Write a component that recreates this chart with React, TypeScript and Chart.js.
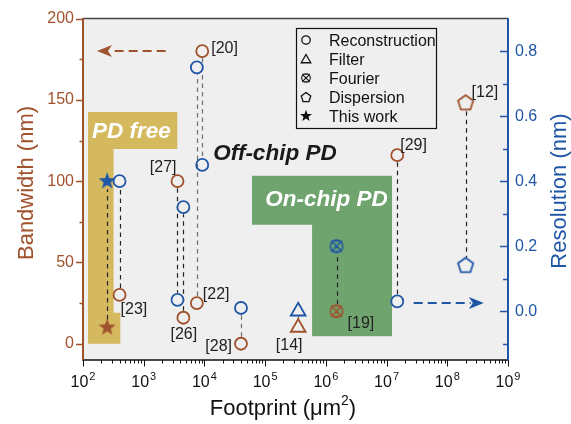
import { useEffect, useRef } from 'react';
import { Chart, registerables } from 'chart.js';

Chart.register(...registerables);

const FONT = '"Liberation Sans", Arial, Helvetica, sans-serif';
const BROWN = '#A0522D';
const BLUE = '#1F57A6';
const GOLD = '#D5B95F';
const GREEN = '#6FA46F';
const PLOT_BG = '#EFEFEF';
const INK = '#222222';

// ---------- data ----------
const recRefs = ['[23]', '[27]', '[26]', '[22]', '[20]', '[28]', '[29]'];
const recFootprint = [400, 3600, 4500, 7500, 9200, 40000, 15000000];
const recBandwidth = [30, 100, 16, 25, 180, 0, 116];
const recResolution = [0.4, 0.035, 0.32, 0.75, 0.45, 0.01, 0.03];

const filterRefs = ['[14]'];
const filterFootprint = [350000];
const filterBandwidth = [10];
const filterResolution = [0.0];

const fourierRefs = ['[19]'];
const fourierFootprint = [1500000];
const fourierBandwidth = [20];
const fourierResolution = [0.2];

const dispersionRefs = ['[12]'];
const dispersionFootprint = [200000000];
const dispersionBandwidth = [148];
const dispersionResolution = [0.14];

const thisWorkFootprint = [250];
const thisWorkBandwidth = [10];
const thisWorkResolution = [0.4];

const xTickExponents = [2, 3, 4, 5, 6, 7, 8, 9];
const leftTicks = [0, 25, 50, 75, 100, 125, 150, 175, 200];
const leftLabeled = [0, 50, 100, 150, 200];
const rightTicks = [-0.1, 0, 0.1, 0.2, 0.3, 0.4, 0.5, 0.6, 0.7, 0.8];
const rightLabeled = [0, 0.2, 0.4, 0.6, 0.8];

const legendLabels = ['Reconstruction', 'Filter', 'Fourier', 'Dispersion', 'This work'];

// arrows: [from footprint, to footprint, value]
const bandwidthArrow = [2300, 170, 180];
const resolutionArrow = [28000000, 400000000, 0.025];

// shaded regions (footprint, bandwidth)
const pdFreeRegion = [
  [121, 142.5], [3570, 142.5], [3570, 119.8], [319, 119.8], [319, 19], [412, 19], [412, 0], [121, 0],
];
const onChipRegion = [
  [60800, 103.4], [12300000, 103.4], [12300000, 4.6], [593000, 4.6], [593000, 73.2], [60800, 73.2],
];

// label layout relative to bandwidth marker (pixels)
const refLabelLayout: Record<string, { dx: number; dy: number; align: CanvasTextAlign }> = {
  '[23]': { dx: 1, dy: 13, align: 'left' },
  '[27]': { dx: -1, dy: -15, align: 'right' },
  '[26]': { dx: 0.5, dy: 15, align: 'center' },
  '[22]': { dx: 6, dy: -10, align: 'left' },
  '[20]': { dx: 9, dy: -4, align: 'left' },
  '[28]': { dx: -9, dy: 1.5, align: 'right' },
  '[29]': { dx: 3, dy: -11, align: 'left' },
  '[14]': { dx: -9, dy: 17, align: 'center' },
  '[19]': { dx: 11, dy: 10.5, align: 'left' },
  '[12]': { dx: 6, dy: -12, align: 'left' },
};
const grayConnectors = ['[20]', '[22]', '[28]'];

// ---------- marker shapes ----------
function pentagonPath(g: CanvasRenderingContext2D, cx: number, cy: number, R: number) {
  g.beginPath();
  for (let k = 0; k < 5; k++) {
    const a = -Math.PI / 2 + (k * 2 * Math.PI) / 5;
    const px = cx + R * Math.cos(a);
    const py = cy + R * Math.sin(a);
    if (k === 0) g.moveTo(px, py);
    else g.lineTo(px, py);
  }
  g.closePath();
}
function starPath(g: CanvasRenderingContext2D, cx: number, cy: number, R: number, r: number) {
  g.beginPath();
  for (let k = 0; k < 10; k++) {
    const a = -Math.PI / 2 + (k * Math.PI) / 5;
    const rr = k % 2 === 0 ? R : r;
    const px = cx + rr * Math.cos(a);
    const py = cy + rr * Math.sin(a);
    if (k === 0) g.moveTo(px, py);
    else g.lineTo(px, py);
  }
  g.closePath();
}
function fourierPath(g: CanvasRenderingContext2D, cx: number, cy: number, r: number, h: number) {
  g.beginPath();
  g.arc(cx, cy, r, 0, Math.PI * 2);
  g.moveTo(cx - h, cy - h);
  g.lineTo(cx + h, cy + h);
  g.moveTo(cx + h, cy - h);
  g.lineTo(cx - h, cy + h);
  g.moveTo(cx - h, cy - h);
  g.lineTo(cx + h, cy - h);
  g.moveTo(cx - h, cy + h);
  g.lineTo(cx + h, cy + h);
}
function trianglePath(g: CanvasRenderingContext2D, cx: number, cy: number, R: number) {
  g.beginPath();
  for (let k = 0; k < 3; k++) {
    const a = -Math.PI / 2 + (k * 2 * Math.PI) / 3;
    const px = cx + R * Math.cos(a);
    const py = cy + R * Math.sin(a);
    if (k === 0) g.moveTo(px, py);
    else g.lineTo(px, py);
  }
  g.closePath();
}

function makeMarker(size: number, draw: (g: CanvasRenderingContext2D, c: number) => void) {
  const c = document.createElement('canvas');
  c.width = size;
  c.height = size;
  const g = c.getContext('2d')!;
  draw(g, size / 2);
  return c;
}

function pentagonMarker(color: string) {
  return makeMarker(22, (g, c) => {
    pentagonPath(g, c, c, 8);
    g.strokeStyle = color;
    g.lineWidth = 1.8;
    g.lineJoin = 'round';
    g.stroke();
  });
}
function starMarker(color: string) {
  return makeMarker(22, (g, c) => {
    starPath(g, c, c, 9, 3.7);
    g.fillStyle = color;
    g.fill();
  });
}
function fourierMarker(color: string) {
  return makeMarker(20, (g, c) => {
    fourierPath(g, c, c, 6.2, 5.3);
    g.strokeStyle = color;
    g.lineWidth = 1.5;
    g.stroke();
  });
}

function pts(xs: number[], ys: number[]) {
  return xs.map((x, i) => ({ x, y: ys[i] }));
}

function drawArrow(ctx: CanvasRenderingContext2D, x1: number, x2: number, y: number, color: string) {
  const dir = x2 > x1 ? 1 : -1;
  const headLen = 15;
  ctx.save();
  ctx.strokeStyle = color;
  ctx.fillStyle = color;
  ctx.lineWidth = 2;
  ctx.setLineDash([9, 5]);
  ctx.beginPath();
  ctx.moveTo(x1, y);
  ctx.lineTo(x2 - dir * (headLen - 2), y);
  ctx.stroke();
  ctx.setLineDash([]);
  ctx.beginPath();
  ctx.moveTo(x2, y);
  ctx.lineTo(x2 - dir * headLen, y - 6);
  ctx.lineTo(x2 - dir * (headLen - 4), y);
  ctx.lineTo(x2 - dir * headLen, y + 6);
  ctx.closePath();
  ctx.fill();
  ctx.restore();
}

const overlayPlugin = {
  id: 'overlay',
  beforeDatasetsDraw(chart: any) {
    const { ctx, chartArea: a, scales } = chart;
    const sx = scales.x;
    const sy = scales.y;
    const sy2 = scales.y2;
    ctx.save();
    ctx.fillStyle = PLOT_BG;
    ctx.fillRect(a.left, a.top, a.right - a.left, a.bottom - a.top);

    const poly = (p: number[][], color: string) => {
      ctx.beginPath();
      p.forEach(([fx, fy], i) => {
        const px = sx.getPixelForValue(fx);
        const py = sy.getPixelForValue(fy);
        if (i === 0) ctx.moveTo(px, py);
        else ctx.lineTo(px, py);
      });
      ctx.closePath();
      ctx.fillStyle = color;
      ctx.fill();
    };
    poly(pdFreeRegion, GOLD);
    poly(onChipRegion, GREEN);

    ctx.font = `italic bold 22.5px ${FONT}`;
    ctx.textBaseline = 'alphabetic';
    ctx.fillStyle = '#FFFFFF';
    ctx.textAlign = 'center';
    ctx.fillText('PD free', sx.getPixelForValue(625), sy.getPixelForValue(131.5) + 8);
    ctx.textAlign = 'left';
    ctx.fillText('On-chip PD', sx.getPixelForValue(100000), sy.getPixelForValue(89.7) + 8);
    ctx.fillStyle = '#1A1A1A';
    ctx.fillText('Off-chip PD', sx.getPixelForValue(14000), sy.getPixelForValue(118) + 8);

    // connectors
    const conn = (f: number, bw: number, res: number, gap1: number, gap2: number, color: string, dashed = true) => {
      const px = Math.round(sx.getPixelForValue(f)) + 0.5;
      const p1 = sy.getPixelForValue(bw);
      const p2 = sy2.getPixelForValue(res);
      const d = p2 > p1 ? 1 : -1;
      ctx.save();
      ctx.strokeStyle = color;
      ctx.lineWidth = 1.2;
      ctx.setLineDash(dashed ? [4.5, 4] : []);
      ctx.beginPath();
      ctx.moveTo(px, p1 + d * gap1);
      ctx.lineTo(px, p2 - d * gap2);
      ctx.stroke();
      ctx.restore();
    };
    recRefs.forEach((r, i) => {
      conn(recFootprint[i], recBandwidth[i], recResolution[i], 7, 7, grayConnectors.includes(r) ? '#707070' : INK);
    });
    filterRefs.forEach((_, i) => {
      conn(filterFootprint[i], filterBandwidth[i], filterResolution[i], 9, 5, '#606060', false);
    });
    fourierRefs.forEach((_, i) => {
      conn(fourierFootprint[i], fourierBandwidth[i], fourierResolution[i], 7, 7, INK);
    });
    dispersionRefs.forEach((_, i) => {
      conn(dispersionFootprint[i], dispersionBandwidth[i], dispersionResolution[i], 8, 8, INK);
    });
    thisWorkFootprint.forEach((f, i) => {
      conn(f, thisWorkBandwidth[i], thisWorkResolution[i], 8, 8, INK);
    });

    // arrows
    drawArrow(ctx, sx.getPixelForValue(bandwidthArrow[0]), sx.getPixelForValue(bandwidthArrow[1]),
      sy.getPixelForValue(bandwidthArrow[2]), BROWN);
    drawArrow(ctx, sx.getPixelForValue(resolutionArrow[0]), sx.getPixelForValue(resolutionArrow[1]),
      sy2.getPixelForValue(resolutionArrow[2]), BLUE);
    ctx.restore();
  },
  afterDatasetsDraw(chart: any) {
    const { ctx, chartArea: a, scales } = chart;
    const sx = scales.x;
    const sy = scales.y;
    const sy2 = scales.y2;
    ctx.save();

    // reference labels
    ctx.font = `16px ${FONT}`;
    ctx.fillStyle = INK;
    ctx.textBaseline = 'alphabetic';
    const lab = (ref: string, f: number, bw: number) => {
      const L = refLabelLayout[ref];
      if (!L) return;
      ctx.textAlign = L.align;
      ctx.fillText(ref, sx.getPixelForValue(f) + L.dx, sy.getPixelForValue(bw) + L.dy + 5.8);
    };
    recRefs.forEach((r, i) => lab(r, recFootprint[i], recBandwidth[i]));
    filterRefs.forEach((r, i) => lab(r, filterFootprint[i], filterBandwidth[i]));
    fourierRefs.forEach((r, i) => lab(r, fourierFootprint[i], fourierBandwidth[i]));
    dispersionRefs.forEach((r, i) => lab(r, dispersionFootprint[i], dispersionBandwidth[i]));

    // legend
    const lx = 296.5, ly = 28.5, lw = 140, lh = 100;
    ctx.strokeStyle = '#111';
    ctx.lineWidth = 1.2;
    ctx.strokeRect(lx, ly, lw, lh);
    ctx.font = `16px ${FONT}`;
    ctx.textAlign = 'left';
    ctx.fillStyle = '#111';
    legendLabels.forEach((t, i) => {
      const cy = 40 + i * 19;
      const cx = 306;
      ctx.strokeStyle = '#111';
      ctx.fillStyle = '#111';
      ctx.lineWidth = 1.3;
      if (i === 0) { ctx.beginPath(); ctx.arc(cx, cy, 4.2, 0, Math.PI * 2); ctx.stroke(); }
      if (i === 1) { trianglePath(ctx, cx, cy + 1, 5.5); ctx.stroke(); }
      if (i === 2) { fourierPath(ctx, cx, cy, 4.3, 3.7); ctx.lineWidth = 1.1; ctx.stroke(); }
      if (i === 3) { pentagonPath(ctx, cx, cy + 0.5, 5); ctx.stroke(); }
      if (i === 4) { starPath(ctx, cx, cy, 6.3, 2.6); ctx.fill(); }
      ctx.fillStyle = '#111';
      ctx.fillText(t, 329, cy + 5.8);
    });

    // frame
    ctx.lineWidth = 1.5;
    ctx.strokeStyle = '#444';
    ctx.beginPath(); ctx.moveTo(a.left, a.top); ctx.lineTo(a.right, a.top); ctx.stroke();
    ctx.strokeStyle = '#111';
    ctx.beginPath(); ctx.moveTo(a.left, a.bottom); ctx.lineTo(a.right, a.bottom); ctx.stroke();
    ctx.lineWidth = 2;
    ctx.strokeStyle = BROWN;
    ctx.beginPath(); ctx.moveTo(a.left, a.top - 0.5); ctx.lineTo(a.left, a.bottom + 1); ctx.stroke();
    ctx.strokeStyle = BLUE;
    ctx.beginPath(); ctx.moveTo(a.right, a.top - 0.5); ctx.lineTo(a.right, a.bottom + 1); ctx.stroke();

    // x ticks
    ctx.strokeStyle = '#111';
    ctx.lineWidth = 1;
    xTickExponents.forEach((e) => {
      const px = Math.round(sx.getPixelForValue(Math.pow(10, e))) + 0.5;
      ctx.beginPath(); ctx.moveTo(px, a.bottom); ctx.lineTo(px, a.bottom + 6.5); ctx.stroke();
      if (e < 9) {
        for (let m = 2; m <= 9; m++) {
          const mx = Math.round(sx.getPixelForValue(m * Math.pow(10, e))) + 0.5;
          ctx.beginPath(); ctx.moveTo(mx, a.bottom); ctx.lineTo(mx, a.bottom + 3.5); ctx.stroke();
        }
      }
    });
    // x tick labels
    ctx.fillStyle = '#111';
    xTickExponents.forEach((e) => {
      const px = sx.getPixelForValue(Math.pow(10, e));
      ctx.font = `16px ${FONT}`;
      const wb = ctx.measureText('10').width;
      ctx.font = `11px ${FONT}`;
      const ws = ctx.measureText(String(e)).width;
      const x0 = px - (wb + ws + 1) / 2;
      ctx.textAlign = 'left';
      ctx.font = `16px ${FONT}`;
      ctx.fillText('10', x0, 386.5);
      ctx.font = `11px ${FONT}`;
      ctx.fillText(String(e), x0 + wb + 1, 380);
    });

    // left ticks
    ctx.strokeStyle = BROWN;
    ctx.lineWidth = 1.5;
    leftTicks.forEach((v) => {
      const py = Math.round(sy.getPixelForValue(v)) + 0.5;
      const len = leftLabeled.includes(v) ? 7 : 3.5;
      ctx.beginPath(); ctx.moveTo(a.left - len, py); ctx.lineTo(a.left, py); ctx.stroke();
    });
    // right ticks (inside)
    ctx.strokeStyle = BLUE;
    rightTicks.forEach((v) => {
      const py = Math.round(sy2.getPixelForValue(v)) + 0.5;
      const len = rightLabeled.some((t) => Math.abs(t - v) < 1e-9) ? 8 : 5;
      ctx.beginPath(); ctx.moveTo(a.right - len, py); ctx.lineTo(a.right, py); ctx.stroke();
    });

    // axis titles
    ctx.font = `22px ${FONT}`;
    ctx.fillStyle = '#111';
    ctx.textAlign = 'left';
    const t1 = 'Footprint (\u03BCm';
    const w1 = ctx.measureText(t1).width;
    ctx.font = `14px ${FONT}`;
    const w2 = ctx.measureText('2').width;
    ctx.font = `22px ${FONT}`;
    const w3 = ctx.measureText(')').width;
    const tx = 283 - (w1 + w2 + w3) / 2;
    ctx.fillText(t1, tx, 415);
    ctx.font = `14px ${FONT}`;
    ctx.fillText('2', tx + w1, 405);
    ctx.font = `22px ${FONT}`;
    ctx.fillText(')', tx + w1 + w2, 415);

    ctx.font = `22px ${FONT}`;
    ctx.textAlign = 'center';
    ctx.save();
    ctx.translate(33, 183);
    ctx.rotate(-Math.PI / 2);
    ctx.fillStyle = BROWN;
    ctx.fillText('Bandwidth (nm)', 0, 0);
    ctx.restore();
    ctx.save();
    ctx.translate(566, 191);
    ctx.rotate(-Math.PI / 2);
    ctx.fillStyle = BLUE;
    ctx.fillText('Resolution (nm)', 0, 0);
    ctx.restore();

    ctx.restore();
  },
};

export default function App() {
  const ref = useRef<HTMLCanvasElement | null>(null);
  useEffect(() => {
    if (!ref.current) return;
    const pentB = pentagonMarker(BROWN);
    const pentU = pentagonMarker(BLUE);
    const starB = starMarker(BROWN);
    const starU = starMarker(BLUE);
    const fourB = fourierMarker(BROWN);
    const fourU = fourierMarker(BLUE);

    const common = { showLine: false, pointBackgroundColor: 'rgba(0,0,0,0)' };
    const chart = new Chart(ref.current, {
      type: 'scatter',
      data: {
        datasets: [
          { ...common, label: 'Reconstruction BW', data: pts(recFootprint, recBandwidth), yAxisID: 'y',
            pointStyle: 'circle', pointRadius: 6, pointBorderWidth: 1.8, pointBorderColor: BROWN },
          { ...common, label: 'Reconstruction Res', data: pts(recFootprint, recResolution), yAxisID: 'y2',
            pointStyle: 'circle', pointRadius: 6, pointBorderWidth: 1.8, pointBorderColor: BLUE },
          { ...common, label: 'Filter BW', data: pts(filterFootprint, filterBandwidth), yAxisID: 'y',
            pointStyle: 'triangle', pointRadius: 8.5, pointBorderWidth: 1.8, pointBorderColor: BROWN },
          { ...common, label: 'Filter Res', data: pts(filterFootprint, filterResolution), yAxisID: 'y2',
            pointStyle: 'triangle', pointRadius: 8.5, pointBorderWidth: 1.8, pointBorderColor: BLUE },
          { ...common, label: 'Fourier BW', data: pts(fourierFootprint, fourierBandwidth), yAxisID: 'y',
            pointStyle: fourB as any, pointRadius: 7 },
          { ...common, label: 'Fourier Res', data: pts(fourierFootprint, fourierResolution), yAxisID: 'y2',
            pointStyle: fourU as any, pointRadius: 7 },
          { ...common, label: 'Dispersion BW', data: pts(dispersionFootprint, dispersionBandwidth), yAxisID: 'y',
            pointStyle: pentB as any, pointRadius: 8 },
          { ...common, label: 'Dispersion Res', data: pts(dispersionFootprint, dispersionResolution), yAxisID: 'y2',
            pointStyle: pentU as any, pointRadius: 8 },
          { ...common, label: 'This work BW', data: pts(thisWorkFootprint, thisWorkBandwidth), yAxisID: 'y',
            pointStyle: starB as any, pointRadius: 9 },
          { ...common, label: 'This work Res', data: pts(thisWorkFootprint, thisWorkResolution), yAxisID: 'y2',
            pointStyle: starU as any, pointRadius: 9 },
        ] as any,
      },
      options: {
        animation: false,
        responsive: false,
        devicePixelRatio: 1,
        layout: { padding: { top: 18, left: 0, right: 0, bottom: 0 } },
        plugins: { legend: { display: false }, tooltip: { enabled: false } },
        scales: {
          x: {
            type: 'logarithmic',
            min: 100,
            max: 1e9,
            ticks: { display: false },
            grid: { display: false, drawTicks: false },
            border: { display: false },
            afterFit: (s: any) => { s.height = 64; },
          },
          y: {
            type: 'linear',
            position: 'left',
            min: -10,
            max: 200,
            afterBuildTicks: (s: any) => { s.ticks = leftTicks.map((v) => ({ value: v })); },
            ticks: {
              color: BROWN,
              font: { family: FONT, size: 16 },
              padding: 9,
              callback: (v: any) => (leftLabeled.includes(Number(v)) ? String(v) : ''),
            },
            grid: { display: false, drawTicks: false },
            border: { display: false },
            afterFit: (s: any) => { s.width = 83; },
          },
          y2: {
            type: 'linear',
            position: 'right',
            min: -0.15,
            max: 0.9,
            afterBuildTicks: (s: any) => { s.ticks = rightTicks.map((v) => ({ value: v })); },
            ticks: {
              color: BLUE,
              font: { family: FONT, size: 16 },
              padding: 7,
              callback: (v: any) =>
                rightLabeled.some((t) => Math.abs(t - Number(v)) < 1e-9) ? Number(v).toFixed(1) : '',
            },
            grid: { display: false, drawTicks: false },
            border: { display: false },
            afterFit: (s: any) => { s.width = 63; },
          },
        },
      } as any,
      plugins: [overlayPlugin],
    });
    return () => chart.destroy();
  }, []);

  return (
    <div style={{ position: 'fixed', left: 0, top: 0, width: 571, height: 424, background: '#fff' }}>
      <canvas ref={ref} width={571} height={424} style={{ display: 'block' }} />
    </div>
  );
}
